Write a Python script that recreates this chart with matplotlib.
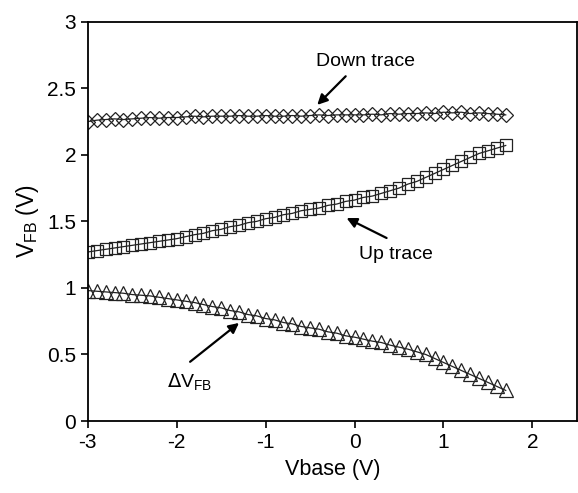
import matplotlib
import matplotlib.pyplot as plt

matplotlib.use('Agg')
plt.rcParams['font.family'] = ['Liberation Sans', 'DejaVu Sans']
plt.rcParams['axes.unicode_minus'] = False

# gate bias sweep (V)
vbase = [-3.0, -2.9, -2.8, -2.7, -2.6, -2.5, -2.4, -2.3, -2.2, -2.1,
         -2.0, -1.9, -1.8, -1.7, -1.6, -1.5, -1.4, -1.3, -1.2, -1.1,
         -1.0, -0.9, -0.8, -0.7, -0.6, -0.5, -0.4, -0.3, -0.2, -0.1,
         0.0, 0.1, 0.2, 0.3, 0.4, 0.5, 0.6, 0.7, 0.8, 0.9,
         1.0, 1.1, 1.2, 1.3, 1.4, 1.5, 1.6, 1.7]

down_trace = [2.25, 2.26, 2.265, 2.27, 2.265, 2.27, 2.275, 2.28, 2.275, 2.28,
              2.28, 2.285, 2.29, 2.285, 2.29, 2.29, 2.29, 2.295, 2.29, 2.29,
              2.295, 2.29, 2.29, 2.295, 2.29, 2.295, 2.30, 2.295, 2.30, 2.30,
              2.30, 2.30, 2.305, 2.30, 2.31, 2.305, 2.31, 2.31, 2.315, 2.31,
              2.32, 2.315, 2.32, 2.31, 2.315, 2.31, 2.305, 2.30]

up_trace = [1.27, 1.28, 1.29, 1.30, 1.31, 1.32, 1.33, 1.34, 1.35, 1.36,
            1.37, 1.385, 1.40, 1.41, 1.43, 1.44, 1.46, 1.47, 1.49, 1.50,
            1.52, 1.53, 1.55, 1.56, 1.58, 1.59, 1.60, 1.62, 1.63, 1.65,
            1.66, 1.68, 1.69, 1.71, 1.73, 1.75, 1.78, 1.80, 1.83, 1.86,
            1.89, 1.92, 1.95, 1.98, 2.01, 2.03, 2.05, 2.07]

delta_vfb = [0.98, 0.975, 0.97, 0.965, 0.96, 0.95, 0.945, 0.94, 0.93, 0.92,
             0.91, 0.90, 0.89, 0.875, 0.86, 0.85, 0.83, 0.82, 0.80, 0.79,
             0.77, 0.76, 0.74, 0.73, 0.71, 0.70, 0.69, 0.67, 0.66, 0.64,
             0.63, 0.615, 0.60, 0.59, 0.57, 0.555, 0.54, 0.52, 0.50, 0.47,
             0.44, 0.41, 0.38, 0.35, 0.32, 0.29, 0.26, 0.23]

fig = plt.figure(figsize=(5.78, 4.93), dpi=100)
ax = fig.add_axes([0.152, 0.146, 0.846, 0.81])

style = dict(color='#222222', lw=0.9, mfc='none', mec='#222222', mew=0.9)
ax.plot(vbase, down_trace, marker='D', ms=7.5, **style)
ax.plot(vbase, up_trace, marker='s', ms=8.5, **style)
ax.plot(vbase, delta_vfb, marker='^', ms=9.5, **style)

ax.set_xlim(-3, 2.5)
ax.set_ylim(0, 3)
ax.set_xticks([-3, -2, -1, 0, 1, 2])
ax.set_yticks([0, 0.5, 1, 1.5, 2, 2.5, 3])
ax.set_yticklabels(['0', '0.5', '1', '1.5', '2', '2.5', '3'])
ax.tick_params(labelsize=15, direction='out', length=5, width=1.2, top=False, right=False)
for s in ax.spines.values():
    s.set_linewidth(1.3)

ax.set_xlabel('Vbase (V)', fontsize=15.5, labelpad=5)
ax.set_ylabel(r'V$_{\mathregular{FB}}$ (V)', fontsize=16.5, labelpad=4)

# labels and their arrows (arrow tail -> head)
arrow = dict(arrowstyle='-|>', color='black', lw=1.6, mutation_scale=15,
             shrinkA=0, shrinkB=0)
ax.text(0.12, 2.70, 'Down trace', fontsize=14, ha='center', va='center')
ax.annotate('', xy=(-0.42, 2.375), xytext=(-0.10, 2.59), arrowprops=arrow)
ax.text(0.47, 1.25, 'Up trace', fontsize=14, ha='center', va='center')
ax.annotate('', xy=(-0.09, 1.525), xytext=(0.36, 1.375), arrowprops=arrow)
ax.text(-1.85, 0.29, r'$\Delta$V$_{\mathregular{FB}}$', fontsize=14, ha='center', va='center')
ax.annotate('', xy=(-1.30, 0.737), xytext=(-1.85, 0.445), arrowprops=arrow)

fig.savefig('out.png', dpi=100)
